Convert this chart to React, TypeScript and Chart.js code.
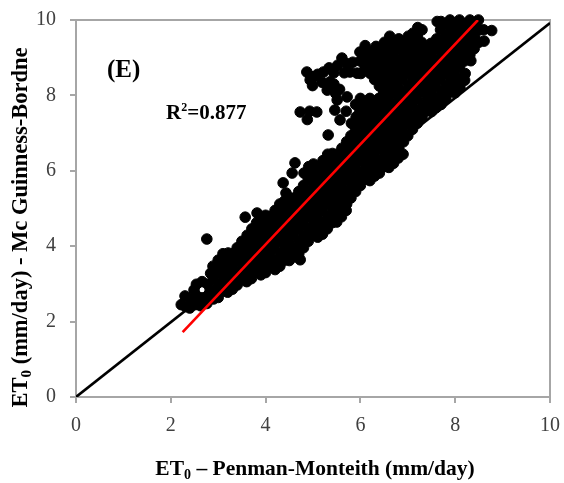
import React, { useEffect, useRef } from "react";
import { Chart, registerables } from "chart.js";

Chart.register(...registerables);

// ---- Axis ticks ----
const xTickValues = [0, 2, 4, 6, 8, 10];
const yTickValues = [0, 2, 4, 6, 8, 10];

// ---- Reference lines ----
const oneToOneLine: [number, number][] = [[0, 0], [10, 9.92]];
const regressionLine: [number, number][] = [[2.25, 1.72], [8.48, 10.0]];
const rSquaredText = "0.877";
const panelLabel = "(E)";

// ---- Scatter: ET0 Penman-Monteith (x) vs Mc Guinness-Bordne (y) ----
const lowerBand: [number, number][] = [
  [2.22, 2.45], [2.31, 2.40], [2.30, 2.68], [2.40, 2.36], [2.41, 2.62],
  [2.49, 2.84], [2.52, 2.45], [2.54, 2.69], [2.54, 2.99], [2.63, 2.42], [2.66, 2.63], [2.66, 3.06],
  [2.76, 2.48], [2.78, 2.69], [2.78, 2.99], [2.83, 2.84], [2.84, 3.28],
  [2.90, 2.60], [2.91, 2.81], [2.90, 3.14], [2.89, 3.47],
  [3.00, 2.64], [3.01, 2.97], [2.99, 3.30], [3.00, 3.63],
  [3.10, 2.81], [3.11, 3.14], [3.09, 3.47], [3.10, 3.80],
  [3.20, 2.78], [3.21, 2.97], [3.19, 3.30], [3.20, 3.63], [3.21, 3.82],
  [3.30, 2.86], [3.31, 3.14], [3.29, 3.47], [3.30, 3.80],
  [3.40, 2.97], [3.41, 3.30], [3.39, 3.63], [3.40, 3.96],
  [3.50, 3.14], [3.51, 3.47], [3.49, 3.80], [3.50, 4.13],
  [3.60, 3.06], [3.61, 3.30], [3.59, 3.63], [3.60, 3.96], [3.61, 4.29],
  [3.70, 3.14], [3.71, 3.47], [3.69, 3.80], [3.70, 4.13], [3.71, 4.46],
  [3.80, 3.30], [3.81, 3.63], [3.79, 3.96], [3.80, 4.29], [3.81, 4.62],
  [3.90, 3.24], [3.91, 3.47], [3.89, 3.80], [3.90, 4.13], [3.91, 4.46], [3.90, 4.74],
];

const middleBand: [number, number][] = [
  [4.00, 3.30], [4.01, 3.63], [3.99, 3.96], [4.00, 4.29], [4.01, 4.62], [4.00, 4.82],
  [4.10, 3.47], [4.09, 3.80], [4.10, 4.13], [4.11, 4.46], [4.10, 4.79],
  [4.20, 3.38], [4.21, 3.63], [4.19, 3.96], [4.20, 4.29], [4.21, 4.62], [4.20, 4.95],
  [4.30, 3.47], [4.31, 3.80], [4.29, 4.13], [4.30, 4.46], [4.31, 4.79], [4.30, 5.12],
  [4.40, 3.63], [4.41, 3.96], [4.39, 4.29], [4.40, 4.62], [4.41, 4.95], [4.40, 5.20],
  [4.50, 3.62], [4.51, 3.80], [4.49, 4.13], [4.50, 4.46], [4.51, 4.79], [4.50, 5.12], [4.51, 5.28],
  [4.60, 3.72], [4.61, 3.96], [4.59, 4.29], [4.60, 4.62], [4.61, 4.95], [4.60, 5.28],
  [4.73, 3.64], [4.70, 3.80], [4.71, 4.13], [4.69, 4.46], [4.70, 4.79], [4.71, 5.12], [4.70, 5.45],
  [4.80, 3.96], [4.81, 4.29], [4.79, 4.62], [4.80, 4.95], [4.81, 5.28], [4.80, 5.61], [4.81, 5.94],
  [4.90, 4.13], [4.91, 4.46], [4.89, 4.79], [4.90, 5.12], [4.91, 5.45], [4.90, 5.78], [4.91, 6.11],
  [5.00, 4.29], [5.01, 4.62], [4.99, 4.95], [5.00, 5.28], [5.01, 5.61], [5.00, 5.94], [5.01, 6.18],
  [5.10, 4.24], [5.11, 4.46], [5.09, 4.79], [5.10, 5.12], [5.11, 5.45], [5.10, 5.78], [5.11, 6.11],
  [5.20, 4.32], [5.21, 4.62], [5.19, 4.95], [5.20, 5.28], [5.21, 5.61], [5.20, 5.94], [5.21, 6.27],
  [5.30, 4.46], [5.31, 4.79], [5.29, 5.12], [5.30, 5.45], [5.31, 5.78], [5.30, 6.11], [5.31, 6.44],
  [5.40, 4.62], [5.41, 4.95], [5.39, 5.28], [5.40, 5.61], [5.41, 5.94], [5.40, 6.27], [5.41, 6.46],
  [5.50, 4.64], [5.51, 4.79], [5.49, 5.12], [5.50, 5.45], [5.51, 5.78], [5.50, 6.11], [5.51, 6.44],
  [5.60, 4.78], [5.61, 4.95], [5.59, 5.28], [5.60, 5.61], [5.61, 5.94], [5.60, 6.27], [5.61, 6.60],
  [5.70, 4.95], [5.71, 5.12], [5.69, 5.45], [5.70, 5.78], [5.71, 6.11], [5.70, 6.44], [5.71, 6.77],
];

const upperBand: [number, number][] = [
  [5.80, 5.28], [5.81, 5.61], [5.79, 5.94], [5.80, 6.27], [5.81, 6.60], [5.80, 6.93], [5.81, 7.26],
  [5.90, 5.45], [5.91, 5.78], [5.89, 6.11], [5.90, 6.44], [5.91, 6.77], [5.90, 7.10], [5.91, 7.43], [5.90, 7.76],
  [6.00, 5.61], [6.01, 5.94], [5.99, 6.27], [6.00, 6.60], [6.01, 6.93], [6.00, 7.26], [5.99, 7.59], [6.00, 7.92], [6.01, 8.58], [6.00, 8.91], [5.99, 9.15],
  [6.10, 5.78], [6.11, 6.11], [6.09, 6.44], [6.10, 6.77], [6.11, 7.10], [6.10, 7.43], [6.09, 7.76], [6.10, 8.75], [6.11, 9.08], [6.10, 9.32],
  [6.20, 5.74], [6.21, 5.94], [6.19, 6.27], [6.20, 6.60], [6.21, 6.93], [6.20, 7.26], [6.19, 7.59], [6.20, 7.92], [6.21, 8.58], [6.20, 8.91], [6.21, 9.16],
  [6.30, 5.86], [6.31, 6.11], [6.29, 6.44], [6.30, 6.77], [6.31, 7.10], [6.30, 7.43], [6.29, 7.76], [6.30, 8.42], [6.31, 8.75], [6.30, 9.08], [6.33, 9.30],
  [6.40, 5.94], [6.41, 6.27], [6.39, 6.60], [6.40, 6.93], [6.41, 7.26], [6.40, 7.59], [6.39, 7.92], [6.40, 8.25], [6.41, 8.58], [6.40, 8.91], [6.41, 9.24],
  [6.50, 6.11], [6.51, 6.44], [6.49, 6.77], [6.50, 7.10], [6.51, 7.43], [6.50, 7.76], [6.49, 8.09], [6.50, 8.42], [6.51, 8.75], [6.50, 9.08], [6.51, 9.41],
  [6.60, 6.09], [6.61, 6.27], [6.59, 6.60], [6.60, 6.93], [6.61, 7.26], [6.60, 7.59], [6.59, 7.92], [6.60, 8.25], [6.61, 8.58], [6.60, 8.91], [6.61, 9.24], [6.62, 9.57],
  [6.70, 6.20], [6.71, 6.44], [6.69, 6.77], [6.70, 7.10], [6.71, 7.43], [6.70, 7.76], [6.69, 8.09], [6.70, 8.42], [6.71, 8.75], [6.70, 9.08], [6.71, 9.41],
  [6.80, 6.34], [6.81, 6.60], [6.79, 6.93], [6.80, 7.26], [6.81, 7.59], [6.80, 7.92], [6.79, 8.25], [6.80, 8.58], [6.81, 8.91], [6.80, 9.24], [6.81, 9.50],
  [6.90, 6.44], [6.91, 6.77], [6.89, 7.10], [6.90, 7.43], [6.91, 7.76], [6.90, 8.09], [6.89, 8.42], [6.90, 8.75], [6.91, 9.08], [6.90, 9.41],
  [7.00, 6.93], [7.01, 7.26], [6.99, 7.59], [7.00, 7.92], [7.01, 8.25], [7.00, 8.58], [6.99, 8.91], [7.00, 9.24], [7.01, 9.57],
  [7.10, 7.10], [7.11, 7.43], [7.09, 7.76], [7.10, 8.09], [7.11, 8.42], [7.10, 8.75], [7.09, 9.08], [7.10, 9.41], [7.11, 9.65],
  [7.20, 7.26], [7.21, 7.59], [7.19, 7.92], [7.20, 8.25], [7.21, 8.58], [7.20, 8.91], [7.19, 9.24], [7.20, 9.57], [7.21, 9.80],
  [7.30, 7.43], [7.31, 7.76], [7.29, 8.09], [7.30, 8.42], [7.31, 8.75], [7.30, 9.08], [7.29, 9.41], [7.30, 9.74],
  [7.40, 7.59], [7.41, 7.92], [7.39, 8.25], [7.40, 8.58], [7.41, 8.91], [7.40, 9.24],
  [7.50, 7.57], [7.51, 7.76], [7.49, 8.09], [7.50, 8.42], [7.51, 8.75], [7.50, 9.08], [7.49, 9.38],
  [7.60, 7.68], [7.61, 7.92], [7.59, 8.25], [7.60, 8.58], [7.61, 8.91], [7.60, 9.24], [7.61, 9.50], [7.62, 9.96],
  [7.70, 7.76], [7.71, 8.09], [7.69, 8.42], [7.70, 8.75], [7.71, 9.08], [7.70, 9.41], [7.69, 9.74], [7.70, 9.96],
  [7.80, 7.92], [7.81, 8.25], [7.79, 8.58], [7.80, 8.91], [7.81, 9.24], [7.80, 9.57], [7.79, 9.90],
  [7.90, 8.09], [7.91, 8.42], [7.89, 8.75], [7.90, 9.08], [7.91, 9.41], [7.90, 9.74], [7.89, 10.0],
  [8.00, 8.07], [8.01, 8.25], [7.99, 8.58], [8.00, 8.91], [8.01, 9.24], [8.00, 9.57], [7.99, 9.90],
  [8.10, 8.21], [8.11, 8.42], [8.09, 8.75], [8.10, 9.08], [8.11, 9.41], [8.10, 9.74], [8.09, 10.0],
  [8.20, 8.40], [8.21, 8.58], [8.19, 8.91], [8.20, 9.24], [8.21, 9.57], [8.20, 9.90],
  [8.33, 8.92], [8.31, 9.08], [8.29, 9.41], [8.30, 9.74], [8.31, 10.0],
  [8.40, 9.24], [8.41, 9.57], [8.39, 9.90],
  [8.50, 9.41], [8.51, 9.74], [8.49, 10.0],
  [8.61, 9.44], [8.60, 9.74],
  [8.77, 9.72],
];

const upperLobe: [number, number][] = [
  [4.87, 8.62], [4.94, 8.41], [4.99, 8.26], [5.02, 8.50], [5.10, 8.56], [5.19, 8.35], [5.22, 8.62],
  [5.30, 8.14], [5.36, 8.36], [5.34, 8.73], [5.44, 8.60], [5.44, 8.30], [5.48, 8.05], [5.52, 8.80],
  [5.61, 8.99], [5.66, 8.60], [5.72, 8.84], [5.78, 8.62], [5.84, 8.88], [5.93, 8.59], [5.56, 8.16],
  [5.46, 7.61], [5.57, 7.35], [5.51, 7.88], [5.72, 7.96], [5.70, 7.58],
];

const outliers: [number, number][] = [
  [2.76, 4.19], [3.57, 4.77], [3.82, 4.88], [4.43, 5.41], [4.37, 5.68], [4.56, 5.94], [4.62, 6.21],
  [4.73, 7.56], [4.93, 7.58], [5.08, 7.56], [4.88, 7.36], [5.32, 6.95],
];

const SERIF = '"Liberation Serif", "Times New Roman", serif';

type Part = { text: string; font: string; dy: number };

function partsWidth(ctx: CanvasRenderingContext2D, parts: Part[]) {
  let w = 0;
  for (const p of parts) {
    ctx.font = p.font;
    w += ctx.measureText(p.text).width;
  }
  return w;
}

function drawParts(ctx: CanvasRenderingContext2D, parts: Part[], x: number, y: number) {
  let cx = x;
  for (const p of parts) {
    ctx.font = p.font;
    ctx.fillText(p.text, cx, y + p.dy);
    cx += ctx.measureText(p.text).width;
  }
}

const framePlugin = {
  id: "frame",
  beforeDatasetsDraw(chart: any) {
    const { ctx, chartArea } = chart;
    ctx.save();
    ctx.strokeStyle = "#a6a6a6";
    ctx.lineWidth = 2;
    ctx.strokeRect(chartArea.left, chartArea.top, chartArea.right - chartArea.left, chartArea.bottom - chartArea.top);
    ctx.restore();
  },
};

const textPlugin = {
  id: "texts",
  afterDraw(chart: any) {
    const { ctx, chartArea } = chart;
    ctx.save();
    ctx.fillStyle = "#000";
    ctx.textAlign = "left";
    ctx.textBaseline = "alphabetic";

    // x axis title
    const xBig = `bold 21.5px ${SERIF}`;
    const xSub = `bold 14px ${SERIF}`;
    const xParts: Part[] = [
      { text: "ET", font: xBig, dy: 0 },
      { text: "0", font: xSub, dy: 4 },
      { text: " \u2013 Penman-Monteith (mm/day)", font: xBig, dy: 0 },
    ];
    const xw = partsWidth(ctx, xParts);
    const xc = (chartArea.left + chartArea.right) / 2 + 2;
    drawParts(ctx, xParts, xc - xw / 2, 475);

    // y axis title (rotated)
    const yBig = `bold 22.5px ${SERIF}`;
    const ySub = `bold 15px ${SERIF}`;
    const yParts: Part[] = [
      { text: "ET", font: yBig, dy: 0 },
      { text: "0", font: ySub, dy: 4 },
      { text: " (mm/day) - Mc Guinness-Bordne", font: yBig, dy: 0 },
    ];
    const yw = partsWidth(ctx, yParts);
    ctx.save();
    ctx.translate(27, 227.5);
    ctx.rotate(-Math.PI / 2);
    drawParts(ctx, yParts, -yw / 2, 0);
    ctx.restore();

    // panel label
    ctx.font = `bold 25px ${SERIF}`;
    ctx.fillText(panelLabel, 107, 77);

    // R squared
    const rParts: Part[] = [
      { text: "R", font: `bold 21px ${SERIF}`, dy: 0 },
      { text: "2", font: `bold 12px ${SERIF}`, dy: -8 },
      { text: "=" + rSquaredText, font: `bold 21px ${SERIF}`, dy: 0 },
    ];
    drawParts(ctx, rParts, 166, 119);
    ctx.restore();
  },
};

const toXY = (arr: [number, number][]) => arr.map(([x, y]) => ({ x, y }));

const zeroPadding = (s: any) => {
  s.paddingLeft = 0;
  s.paddingRight = 0;
  s.paddingTop = 0;
  s.paddingBottom = 0;
};

export default function App() {
  const ref = useRef<HTMLCanvasElement>(null);

  useEffect(() => {
    if (!ref.current) return;
    const tickFont = { family: SERIF, size: 20 };
    const chart = new Chart(ref.current, {
      type: "scatter",
      data: {
        datasets: [
          {
            label: "Regression",
            data: toXY(regressionLine),
            showLine: true,
            borderColor: "#ff0000",
            borderWidth: 2.6,
            pointRadius: 0,
            order: 0,
          } as any,
          {
            label: "ET0",
            data: toXY([...lowerBand, ...middleBand, ...upperBand, ...upperLobe, ...outliers]),
            backgroundColor: "#000000",
            borderColor: "#000000",
            pointRadius: 5.3,
            borderWidth: 1,
            clip: false,
            order: 1,
          } as any,
          {
            label: "1:1",
            data: toXY(oneToOneLine),
            showLine: true,
            borderColor: "#000000",
            borderWidth: 2.6,
            pointRadius: 0,
            order: 2,
          } as any,
        ],
      },
      options: {
        animation: false,
        responsive: false,
        layout: { padding: { top: 20, right: 14, left: 0, bottom: 0 } },
        plugins: { legend: { display: false }, tooltip: { enabled: false } },
        scales: {
          x: {
            type: "linear",
            min: 0,
            max: 10,
            afterBuildTicks: (s: any) => {
              s.ticks = xTickValues.map((v) => ({ value: v }));
            },
            ticks: { padding: 11, font: tickFont, color: "#404040" },
            grid: { drawOnChartArea: false, tickLength: 6, color: "#a6a6a6", tickColor: "#a6a6a6", lineWidth: 2 },
            border: { display: false },
            afterFit: (s: any) => {
              s.height = 86;
              zeroPadding(s);
            },
          },
          y: {
            type: "linear",
            min: 0,
            max: 10,
            afterBuildTicks: (s: any) => {
              s.ticks = yTickValues.map((v) => ({ value: v }));
            },
            ticks: { padding: 14, font: tickFont, color: "#404040" },
            grid: { drawOnChartArea: false, tickLength: 6, color: "#a6a6a6", tickColor: "#a6a6a6", lineWidth: 2 },
            border: { display: false },
            afterFit: (s: any) => {
              s.width = 76;
              zeroPadding(s);
            },
          },
        },
      } as any,
      plugins: [framePlugin, textPlugin],
    });
    return () => chart.destroy();
  }, []);

  return (
    <div style={{ position: "absolute", left: 0, top: 0, width: 564, height: 483, background: "#fff" }}>
      <canvas ref={ref} width={564} height={483} style={{ width: 564, height: 483, display: "block" }} />
    </div>
  );
}
